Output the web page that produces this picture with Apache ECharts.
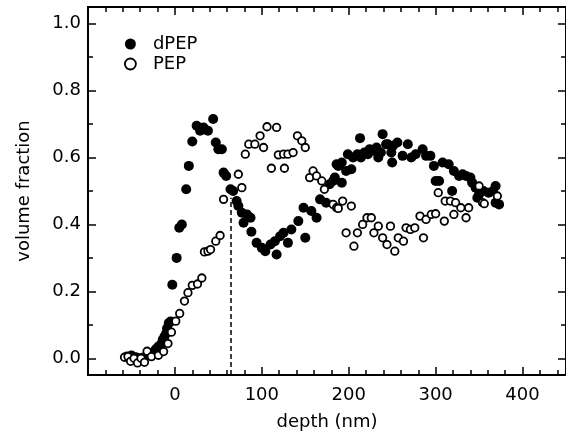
<!DOCTYPE html>
<html>
<head>
<meta charset="utf-8">
<script src="https://cdn.jsdelivr.net/npm/echarts@6/dist/echarts.min.js"></script>
<style>
  html, body { margin: 0; padding: 0; background: #fff; }
  #main { width: 566px; height: 442px; }
</style>
</head>
<body>
<div id="main"></div>
<script>
// depth (nm) / volume fraction
var dpepDepth = [-55, -50, -45, -40, -36, -31, -26, -22, -19, -16, -14, -12, -10, -9, -7, -5, -3, 2, 5, 8,
  13, 16, 20, 25, 29, 33, 38, 44, 47, 50, 54, 56, 59, 64, 67, 71, 73, 77, 79, 83,
  87, 88, 94, 100, 104, 110, 115, 117, 121, 125, 130, 134, 142, 148, 150, 157, 163, 167, 174, 178,
  182, 184, 186, 188, 192, 192, 197, 199, 203, 205, 210, 213, 214, 218, 222, 224, 228, 232, 234, 237,
  239, 243, 245, 249, 250, 251, 256, 262, 268, 272, 277, 285, 289, 294, 298, 300, 304, 308, 315, 319,
  321, 327, 331, 335, 340, 342, 346, 348, 350, 355, 361, 366, 369, 369, 373];
var dpepFrac = [0.005, 0.008, 0.003, 0.0, 0.002, 0.01, 0.016, 0.027, 0.035, 0.042, 0.055, 0.065, 0.075, 0.09, 0.105, 0.11, 0.22, 0.30, 0.39, 0.40,
  0.505, 0.575, 0.648, 0.695, 0.68, 0.69, 0.68, 0.715, 0.645, 0.625, 0.625, 0.555, 0.545, 0.505, 0.50, 0.47, 0.455, 0.435, 0.405, 0.43,
  0.42, 0.378, 0.345, 0.33, 0.32, 0.34, 0.35, 0.31, 0.365, 0.375, 0.345, 0.385, 0.41, 0.45, 0.36, 0.44, 0.42, 0.475, 0.465, 0.52,
  0.53, 0.54, 0.58, 0.575, 0.525, 0.585, 0.56, 0.61, 0.565, 0.60, 0.61, 0.658, 0.60, 0.615, 0.61, 0.625, 0.62, 0.63, 0.60, 0.615,
  0.67, 0.64, 0.64, 0.615, 0.585, 0.635, 0.645, 0.605, 0.64, 0.60, 0.61, 0.625, 0.605, 0.605, 0.575, 0.53, 0.53, 0.585, 0.58, 0.50,
  0.56, 0.545, 0.55, 0.545, 0.54, 0.525, 0.51, 0.48, 0.49, 0.50, 0.495, 0.50, 0.515, 0.465, 0.46];

var pepDepth = [-58, -54, -51, -47, -43, -39, -35, -32, -27, -19, -13, -8, -4, 1, 5.5, 11, 15, 20, 26, 31,
  34, 38, 41, 47, 52, 56, 73, 77, 81, 85, 92, 98, 102, 106, 111, 117, 119, 125, 126, 130,
  136, 141, 146, 150, 155, 159, 163, 169, 172, 182, 186, 188, 193, 197, 203, 206, 210, 216, 221, 226,
  229, 234, 239, 244, 248, 253, 257, 263, 266, 271, 276, 282, 286, 289, 295, 300, 303, 310, 311, 317,
  321, 323, 329, 335, 338, 350, 354, 356, 371];
var pepFrac = [0.003, 0.005, -0.009, 0.0, -0.014, 0.0, -0.012, 0.021, 0.005, 0.009, 0.02, 0.044, 0.078, 0.111, 0.134, 0.171, 0.196, 0.218, 0.222, 0.24,
  0.318, 0.32, 0.325, 0.35, 0.367, 0.475, 0.55, 0.51, 0.61, 0.64, 0.64, 0.665, 0.63, 0.692, 0.568, 0.69, 0.608, 0.61, 0.568, 0.61,
  0.615, 0.665, 0.65, 0.63, 0.54, 0.56, 0.545, 0.53, 0.505, 0.46, 0.45, 0.448, 0.47, 0.375, 0.455, 0.335, 0.375, 0.40, 0.42, 0.42,
  0.375, 0.395, 0.36, 0.34, 0.395, 0.32, 0.36, 0.35, 0.39, 0.385, 0.39, 0.425, 0.36, 0.415, 0.43, 0.432, 0.495, 0.41, 0.47, 0.47,
  0.43, 0.465, 0.45, 0.42, 0.45, 0.515, 0.465, 0.462, 0.485];

var interfaceDepth = 64;
var interfaceTop = 0.48;

var depthMajor = [-100, 0, 100, 200, 300, 400];
var depthLabels = [0, 100, 200, 300, 400];
var depthMinor = [-80, -60, -40, -20, 20, 40, 60, 80, 120, 140, 160, 180, 220, 240, 260, 280,
  320, 340, 360, 380, 420, 440];
var fracMajor = [0, 0.2, 0.4, 0.6, 0.8, 1.0];
var fracMinor = [0.1, 0.3, 0.5, 0.7, 0.9];

function zip(xs, ys) {
  return xs.map(function (x, i) { return [x, ys[i]]; });
}

var font = 'DejaVu Sans';
var myChart = echarts.init(document.getElementById('main'));

// one grid carries the frame, majors and labels; the second (same box) carries only minor ticks
function xAx(grid, pos, ticks, len, labels, line) {
  return {
    gridIndex: grid, type: 'value', min: -100, max: 450, position: pos,
    axisLine: { show: line, onZero: false, lineStyle: { color: '#000', width: 2 } },
    axisTick: { show: true, inside: true, length: len, customValues: ticks, lineStyle: { color: '#000', width: 1.5 } },
    axisLabel: labels ? { show: true, customValues: labels, color: '#000', fontFamily: font, fontSize: 18, margin: 11 } : { show: false },
    splitLine: { show: false }
  };
}
function yAx(grid, pos, ticks, len, labels, line) {
  return {
    gridIndex: grid, type: 'value', min: -0.05, max: 1.05, position: pos,
    axisLine: { show: line, onZero: false, lineStyle: { color: '#000', width: 2 } },
    axisTick: { show: true, inside: true, length: len, customValues: ticks, lineStyle: { color: '#000', width: 1.5 } },
    axisLabel: labels ? {
      show: true, customValues: labels, color: '#000', fontFamily: font, fontSize: 18, margin: 7,
      formatter: function (v) { return v.toFixed(1); }
    } : { show: false },
    splitLine: { show: false }
  };
}

var xMain = xAx(0, 'bottom', depthMajor, 8, depthLabels, true);
xMain.name = 'depth (nm)';
xMain.nameLocation = 'middle';
xMain.nameGap = 38;
xMain.nameTextStyle = { color: '#000', fontFamily: font, fontSize: 18 };

var yMain = yAx(0, 'left', fracMajor, 8, fracMajor, true);
yMain.name = 'volume fraction';
yMain.nameLocation = 'middle';
yMain.nameGap = 55;
yMain.nameTextStyle = { color: '#000', fontFamily: font, fontSize: 18 };

var box = { left: 88, top: 7, right: -3, bottom: 67 };

var option = {
  backgroundColor: '#fff',
  animation: false,
  grid: [
    Object.assign({ show: true, borderColor: '#000', borderWidth: 2, backgroundColor: 'transparent' }, box),
    Object.assign({}, box)
  ],
  legend: {
    orient: 'vertical', left: 119, top: 30,
    itemWidth: 11, itemHeight: 11, itemGap: 2,
    textStyle: { color: '#000', fontFamily: font, fontSize: 18, lineHeight: 18, padding: [0, 0, 0, 12] },
    data: [
      { name: 'dPEP', icon: 'circle', itemStyle: { color: '#000', borderWidth: 0 } },
      { name: 'PEP', icon: 'circle', itemStyle: { color: '#fff', borderColor: '#000', borderWidth: 1.8 } }
    ]
  },
  xAxis: [
    xMain,
    xAx(0, 'top', depthMajor, 8, null, true),
    xAx(1, 'bottom', depthMinor, 5, null, false),
    xAx(1, 'top', depthMinor, 5, null, false)
  ],
  yAxis: [
    yMain,
    yAx(0, 'right', fracMajor, 8, null, true),
    yAx(1, 'left', fracMinor, 5, null, false),
    yAx(1, 'right', fracMinor, 5, null, false)
  ],
  series: [
    {
      name: 'dPEP', type: 'scatter', symbol: 'circle', symbolSize: 10,
      xAxisIndex: 0, yAxisIndex: 0,
      itemStyle: { color: '#000', opacity: 1 },
      data: zip(dpepDepth, dpepFrac),
      markLine: {
        silent: true, symbol: 'none', label: { show: false },
        lineStyle: { color: '#000', type: [5, 3], width: 1.5 },
        data: [[{ coord: [interfaceDepth, -0.05] }, { coord: [interfaceDepth, interfaceTop] }]]
      },
      z: 2
    },
    {
      name: 'PEP', type: 'scatter', symbol: 'circle', symbolSize: 7.5,
      xAxisIndex: 0, yAxisIndex: 0,
      itemStyle: { color: '#fff', borderColor: '#000', borderWidth: 1.8, opacity: 1 },
      data: zip(pepDepth, pepFrac),
      z: 3
    }
  ]
};

myChart.setOption(option);
</script>
</body>
</html>
